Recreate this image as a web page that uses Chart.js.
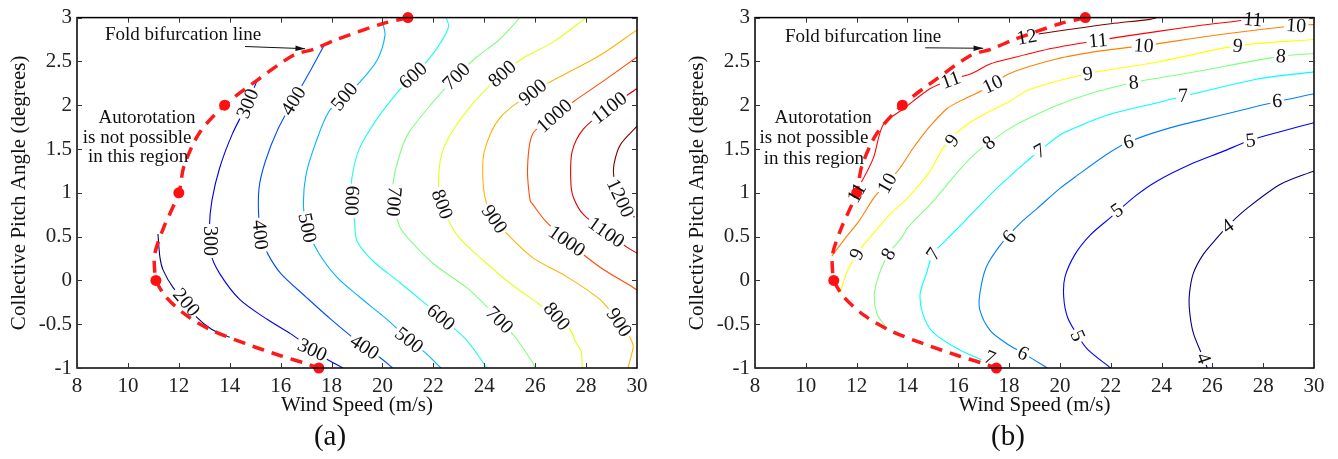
<!DOCTYPE html>
<html>
<head>
<meta charset="utf-8">
<script src="https://cdn.jsdelivr.net/npm/chart.js@4.4.1/dist/chart.umd.min.js"></script>
<style>
  html, body { margin: 0; padding: 0; background: #fff; }
  #wrap { position: relative; width: 1338px; height: 459px; overflow: hidden; }
  .panel { position: absolute; top: 0; width: 669px; height: 459px; }
  #pa { left: 0; }
  #pb { left: 669px; }
</style>
</head>
<body>
<div id="wrap">
  <div class="panel" id="pa"><canvas id="ca"></canvas></div>
  <div class="panel" id="pb"><canvas id="cb"></canvas></div>
</div>
<script>
// ---- axis ticks ----
const windTicks  = [8, 10, 12, 14, 16, 18, 20, 22, 24, 26, 28, 30];
const pitchTicks = [-1, -0.5, 0, 0.5, 1, 1.5, 2, 2.5, 3];

// ---- fold bifurcation line (wind speed, pitch) ----
const foldLine = [[21.0,3.0],[20.0,2.93],[18.2,2.75],[17.3,2.64],[16.5,2.57],[15.1,2.29],[13.8,2.0],
  [12.8,1.68],[12.2,1.3],[12.0,1.0],[11.4,0.6],[11.05,0.3],[11.05,0.12],[11.1,0.0],[11.5,-0.19],
  [12.3,-0.4],[13.3,-0.57],[14.6,-0.72],[16.0,-0.86],[16.9,-0.94],[17.5,-1.0]];
const foldPoints = [[21.0,3.0],[13.8,2.0],[12.0,1.0],[11.1,0.0],[17.5,-1.0]];

// ---- panel (a) contour levels and lines ----
const levelsA = [200, 300, 400, 500, 600, 700, 800, 900, 1000, 1100, 1200];
const contA200 = [[11.18,0.53],[11.26,0.26],[11.38,0.12],[11.77,-0.08],[12.3,-0.25],[12.7,-0.42],[13.3,-0.56],[14.0,-0.65]];
const contA300 = [[15.1,2.3],[14.7,2.02],[14.1,1.67],[13.6,1.28],[13.3,0.91],[13.2,0.6],[13.25,0.31],[13.6,0.08],
  [14.4,-0.22],[15.5,-0.45],[16.5,-0.63],[17.25,-0.79],[17.7,-0.88],[18.45,-1.0]];
const contA400 = [[17.7,2.68],[17.2,2.41],[16.5,2.05],[15.9,1.73],[15.4,1.36],[15.15,1.05],[15.15,0.68],[15.3,0.45],
  [15.5,0.3],[16.0,0.08],[17.0,-0.19],[18.0,-0.45],[19.3,-0.76],[19.9,-0.88],[20.4,-1.0]];
const contA500 = [[20.0,2.95],[20.1,2.8],[19.8,2.52],[19.1,2.26],[18.5,2.1],[17.9,1.93],[17.4,1.59],[17.0,1.21],
  [16.9,0.83],[17.1,0.55],[17.5,0.31],[18.2,0.04],[19.1,-0.19],[20.2,-0.45],[21.05,-0.68],[21.7,-0.83],[22.3,-1.0]];
const contA600 = [[22.5,3.0],[22.6,2.9],[22.3,2.72],[21.75,2.5],[21.2,2.34],[20.6,2.15],[19.8,1.85],[19.1,1.51],
  [18.8,1.17],[18.8,0.9],[18.9,0.68],[19.0,0.45],[19.6,0.23],[20.7,-0.03],[21.5,-0.22],[22.3,-0.42],[23.3,-0.68],[24.1,-1.0]];
const contA700 = [[25.4,3.0],[24.6,2.75],[23.7,2.55],[22.9,2.33],[22.0,2.04],[21.0,1.67],[20.6,1.36],[20.4,1.05],
  [20.5,0.8],[20.7,0.6],[21.1,0.45],[22.0,0.19],[23.3,-0.08],[24.0,-0.27],[24.6,-0.45],[25.3,-0.68],[25.9,-0.94],[26.0,-1.0]];
const contA800 = [[28.0,3.0],[26.7,2.72],[25.6,2.55],[24.7,2.36],[23.3,1.93],[22.4,1.51],[22.2,1.13],[22.35,0.85],
  [22.6,0.68],[23.0,0.49],[23.95,0.23],[25.0,-0.03],[26.1,-0.26],[26.85,-0.41],[27.4,-0.57],[27.6,-0.71],[27.8,-0.8],[27.85,-1.0]];
const contA900 = [[30.0,2.86],[28.55,2.57],[27.2,2.36],[25.9,2.15],[24.6,1.85],[24.0,1.47],[23.95,1.13],[24.1,0.87],
  [24.45,0.68],[24.9,0.53],[25.9,0.26],[27.25,0.04],[28.55,-0.22],[29.3,-0.48],[29.7,-0.64],[29.85,-0.75],[29.7,-0.94],[29.65,-1.0]];
const contA1000 = [[30.0,2.55],[28.8,2.3],[27.5,2.04],[26.75,1.88],[25.9,1.67],[25.7,1.28],[25.8,0.91],[25.9,0.87],
  [26.4,0.68],[27.25,0.45],[28.55,0.15],[29.85,-0.08],[30.0,-0.11]];
const contA1100 = [[30.0,2.19],[28.9,1.97],[27.9,1.73],[27.45,1.47],[27.4,1.13],[27.5,0.95],[27.9,0.75],[28.8,0.55],
  [29.6,0.38],[30.0,0.31]];
const contA1200 = [[30.0,1.76],[29.35,1.55],[29.1,1.33],[29.1,1.17],[29.35,0.94],[29.9,0.72]];
const linesA = [contA200, contA300, contA400, contA500, contA600, contA700, contA800, contA900, contA1000, contA1100, contA1200];

// inline labels of panel (a): [level, wind speed, pitch, rotation in degrees]
const labelsA = [
  [300,14.7,2.02,-68],[400,16.5,2.05,-58],[500,18.5,2.1,-50],[600,21.2,2.34,-42],[700,22.9,2.33,-45],
  [800,24.7,2.36,-42],[900,25.9,2.15,-40],[1000,26.75,1.88,-42],[1100,28.9,1.97,-38],[1200,29.35,0.94,65],
  [300,13.22,0.45,90],[400,15.2,0.52,85],[500,17.05,0.6,78],[600,18.8,0.91,92],[700,20.45,0.9,95],
  [800,22.35,0.87,70],[900,24.4,0.7,55],[1000,27.25,0.45,35],[1100,28.8,0.55,35],
  [200,12.3,-0.25,50],[300,17.25,-0.79,25],[400,19.3,-0.76,33],[500,21.05,-0.68,38],[600,22.3,-0.42,40],
  [700,24.6,-0.45,45],[800,26.85,-0.41,50],[900,29.3,-0.48,57]
];

// ---- panel (b) contour levels and lines ----
const levelsB = [4, 5, 6, 7, 8, 9, 10, 11, 12];
const contB4 = [[25.8,-1.0],[25.65,-0.89],[25.25,-0.6],[25.1,-0.34],[25.1,-0.15],[25.25,0.08],[25.65,0.3],[26.2,0.49],
  [26.6,0.62],[27.4,0.83],[28.7,1.1],[30.0,1.25]];
const contB5 = [[22.0,-1.0],[21.1,-0.79],[20.7,-0.63],[20.3,-0.42],[20.15,-0.19],[20.2,0.04],[20.6,0.3],[21.2,0.52],
  [22.0,0.72],[23.0,0.97],[23.8,1.13],[25.1,1.32],[26.4,1.47],[27.5,1.6],[28.7,1.7],[30.0,1.8]];
const contB6 = [[19.5,-1.0],[18.55,-0.83],[17.9,-0.72],[17.25,-0.57],[16.85,-0.34],[16.85,-0.15],[17.1,0.15],[17.7,0.42],
  [18.5,0.67],[19.1,0.82],[20.0,1.05],[20.6,1.18],[21.85,1.44],[22.7,1.58],[24.2,1.73],[26.4,1.89],[28.4,2.03],[30.0,2.13]];
const contB7 = [[17.3,-0.95],[16.1,-0.8],[15.0,-0.59],[14.6,-0.38],[14.5,-0.15],[14.75,0.08],[15.0,0.3],[15.55,0.47],
  [16.2,0.66],[17.4,1.02],[18.7,1.36],[19.2,1.48],[20.0,1.66],[20.5,1.73],[21.9,1.89],[24.0,2.04],[25.1,2.12],[27.8,2.3],[30.0,2.38]];
const contB8 = [[13.2,-0.55],[12.8,-0.38],[12.7,-0.15],[12.9,0.08],[13.25,0.3],[13.8,0.5],[14.0,0.6],[15.0,0.9],
  [16.1,1.28],[16.75,1.47],[17.2,1.57],[18.0,1.73],[18.55,1.82],[19.9,2.0],[21.4,2.15],[22.9,2.26],[25.1,2.37],[28.7,2.56],[30.0,2.59]];
const contB9 = [[11.35,-0.14],[11.6,0.08],[12.0,0.3],[12.7,0.55],[13.3,0.75],[14.0,0.94],[14.8,1.21],[15.4,1.51],
  [15.8,1.65],[16.35,1.78],[17.25,1.93],[18.0,2.04],[18.8,2.18],[21.1,2.36],[23.8,2.49],[27.0,2.68],[30.0,2.75]];
const contB10 = [[11.03,0.28],[11.6,0.5],[12.1,0.68],[12.7,0.95],[13.2,1.11],[13.7,1.28],[14.2,1.5],[14.8,1.73],
  [15.55,1.96],[16.3,2.08],[17.1,2.19],[18.0,2.36],[19.9,2.53],[21.6,2.62],[23.3,2.68],[26.4,2.81],[29.3,2.91],[30.0,2.92]];
const contB11 = [[11.75,0.92],[12.05,1.05],[12.65,1.39],[13.05,1.78],[13.85,1.96],[14.9,2.19],[15.7,2.29],[16.5,2.36],
  [17.25,2.47],[18.0,2.53],[19.7,2.65],[21.5,2.74],[23.8,2.84],[25.5,2.91],[27.2,2.97],[27.8,3.0]];
const contB12 = [[18.35,2.74],[18.95,2.8],[20.5,2.87],[22.0,2.93],[23.55,2.98],[23.8,3.0]];
const linesB = [contB4, contB5, contB6, contB7, contB8, contB9, contB10, contB11, contB12];

// inline labels of panel (b): [level, wind speed, pitch, rotation in degrees]
const labelsB = [
  [12,18.7,2.78,-10],[11,21.5,2.74,-5],[11,27.6,2.98,5],[10,29.3,2.91,4],[10,23.3,2.68,4],[9,27.0,2.68,5],
  [8,28.7,2.56,4],[9,21.1,2.36,-8],[8,22.9,2.26,-5],[7,24.85,2.11,-3],[6,28.55,2.05,-3],[5,27.5,1.6,-6],
  [6,22.7,1.58,-15],[7,19.2,1.48,-30],[5,22.25,0.8,-35],[4,26.6,0.62,-35],[10,17.35,2.24,-25],
  [11,15.7,2.29,-20],[9,15.75,1.6,-55],[8,17.2,1.57,-40],[10,13.2,1.11,-60],[11,12.0,1.0,-60],
  [9,12.0,0.3,-65],[8,13.25,0.3,-60],[7,15.02,0.3,-55],[6,18.0,0.5,-50],[7,17.25,-0.88,22],
  [6,18.55,-0.83,25],[5,20.7,-0.63,65],[4,25.65,-0.89,70]
];

// ---- text ----
const xTitle = 'Wind Speed (m/s)';
const yTitle = 'Collective Pitch Angle (degrees)';
const foldNote = 'Fold bifurcation line';
const regionNote = ['Autorotation', 'is not possible', 'in this region'];

// jet colour map, t in [0,1]
function jet(t) {
  const c = v => Math.round(255 * Math.max(0, Math.min(1, v)));
  return `rgb(${c(1.5 - Math.abs(4 * t - 3))},${c(1.5 - Math.abs(4 * t - 2))},${c(1.5 - Math.abs(4 * t - 1))})`;
}

const SERIF = '"Liberation Serif", "Times New Roman", serif';
const INK = '#111';

function pts(arr) { return arr.map(p => ({ x: p[0], y: p[1] })); }

function buildDatasets(levels, lines, colorOf) {
  const sets = [
    { // fold points on top
      data: pts(foldPoints), showLine: false, pointRadius: 5.5, pointBackgroundColor: '#ff1010',
      pointBorderWidth: 0, clip: false
    },
    { // fold bifurcation line
      data: pts(foldLine), showLine: true, pointRadius: 0, borderColor: '#ff1a1a', borderWidth: 3.5,
      borderDash: [12, 8], tension: 0.3, clip: false
    }
  ];
  levels.forEach((lv, i) => {
    sets.push({
      data: pts(lines[i]), showLine: true, pointRadius: 0, borderColor: colorOf(lv),
      borderWidth: 1.1, tension: 0.3
    });
  });
  return sets;
}

// per-panel decoration settings
const decorCfg = {
  ca: {
    labels: labelsA, colorOf: v => jet((v - 200) / 1000), tag: '(a)', tagDx: -27,
    foldText: [9.1, 2.8], arrow: [[14.6, 2.67], [16.96, 2.645]],
    region: [[10.75, 1.85], [10.36, 1.62], [10.4, 1.41]]
  },
  cb: {
    labels: labelsB, colorOf: v => jet((v - 4) / 8), tag: '(b)', tagDx: -26.5,
    foldText: [9.18, 2.78], arrow: [[14.7, 2.655], [16.98, 2.65]],
    region: [[10.68, 1.85], [10.32, 1.62], [10.32, 1.39]]
  }
};

const decor = {
  id: 'decor',
  afterDatasetDraw(chart, args) {
    // after the last contour line is drawn: clear gaps behind the labels
    if (args.index !== 2) return;
    const cfg = decorCfg[chart.canvas.id];
    const ctx = chart.ctx, xs = chart.scales.x, ys = chart.scales.y;
    ctx.save();
    ctx.font = `20px ${SERIF}`;
    cfg.labels.forEach(([v, x, y, a]) => {
      const w = ctx.measureText(String(v)).width;
      ctx.save();
      ctx.translate(xs.getPixelForValue(x), ys.getPixelForValue(y));
      ctx.rotate(a * Math.PI / 180);
      ctx.fillStyle = '#fff';
      ctx.fillRect(-w / 2 - 2, -7, w + 4, 14);
      ctx.restore();
    });
    ctx.restore();
  },
  afterDraw(chart) {
    const cfg = decorCfg[chart.canvas.id];
    const ctx = chart.ctx, xs = chart.scales.x, ys = chart.scales.y;
    const { left, right, top, bottom } = chart.chartArea;
    ctx.save();

    // contour labels
    ctx.font = `20px ${SERIF}`;
    ctx.fillStyle = INK;
    ctx.textAlign = 'center';
    ctx.textBaseline = 'middle';
    cfg.labels.forEach(([v, x, y, a]) => {
      ctx.save();
      ctx.translate(xs.getPixelForValue(x), ys.getPixelForValue(y));
      ctx.rotate(a * Math.PI / 180);
      ctx.fillText(String(v), 0, 1);
      ctx.restore();
    });

    // axes box with inward ticks
    ctx.strokeStyle = '#000';
    ctx.lineWidth = 1.5;
    ctx.strokeRect(left, top, right - left, bottom - top);
    ctx.lineWidth = 1;
    ctx.strokeStyle = '#333';
    ctx.beginPath();
    xs.ticks.forEach(t => {
      const px = Math.round(xs.getPixelForValue(t.value)) + 0.5;
      ctx.moveTo(px, bottom); ctx.lineTo(px, bottom - 5);
      ctx.moveTo(px, top); ctx.lineTo(px, top + 5);
    });
    ys.ticks.forEach(t => {
      const py = Math.round(ys.getPixelForValue(t.value)) + 0.5;
      ctx.moveTo(left, py); ctx.lineTo(left + 5, py);
      ctx.moveTo(right, py); ctx.lineTo(right - 5, py);
    });
    ctx.stroke();

    // notes
    ctx.fillStyle = INK;
    ctx.font = `19px ${SERIF}`;
    ctx.textAlign = 'left';
    ctx.fillText(foldNote, xs.getPixelForValue(cfg.foldText[0]), ys.getPixelForValue(cfg.foldText[1]));
    ctx.textAlign = 'center';
    regionNote.forEach((s, i) => {
      ctx.fillText(s, xs.getPixelForValue(cfg.region[i][0]), ys.getPixelForValue(cfg.region[i][1]));
    });

    // arrow towards the fold line
    const x1 = xs.getPixelForValue(cfg.arrow[0][0]), y1 = ys.getPixelForValue(cfg.arrow[0][1]);
    const x2 = xs.getPixelForValue(cfg.arrow[1][0]), y2 = ys.getPixelForValue(cfg.arrow[1][1]);
    const ang = Math.atan2(y2 - y1, x2 - x1);
    ctx.strokeStyle = INK;
    ctx.lineWidth = 1;
    ctx.beginPath();
    ctx.moveTo(x1, y1); ctx.lineTo(x2, y2);
    ctx.stroke();
    ctx.beginPath();
    ctx.moveTo(x2, y2);
    ctx.lineTo(x2 - 10 * Math.cos(ang - 0.28), y2 - 10 * Math.sin(ang - 0.28));
    ctx.lineTo(x2 - 10 * Math.cos(ang + 0.28), y2 - 10 * Math.sin(ang + 0.28));
    ctx.closePath();
    ctx.fillStyle = INK;
    ctx.fill();

    // axis titles
    ctx.font = `21px ${SERIF}`;
    ctx.textAlign = 'center';
    ctx.textBaseline = 'middle';
    ctx.fillText(xTitle, (left + right) / 2, bottom + 37);
    ctx.save();
    ctx.translate(left - 57.5, (top + bottom) / 2);
    ctx.rotate(-Math.PI / 2);
    ctx.fillText(yTitle, 0, 0);
    ctx.restore();

    // panel tag
    ctx.font = `29px ${SERIF}`;
    ctx.fillText(cfg.tag, (left + right) / 2 + cfg.tagDx, bottom + 69);
    ctx.restore();
  }
};

function makeChart(id, levels, lines, padRight, yWidth) {
  const cfg = decorCfg[id];
  return new Chart(document.getElementById(id), {
    type: 'scatter',
    data: { datasets: buildDatasets(levels, lines, cfg.colorOf) },
    options: {
      responsive: true,
      maintainAspectRatio: false,
      animation: false,
      events: [],
      layout: { padding: { left: 0, right: padRight, top: 15, bottom: 0 } },
      plugins: { legend: { display: false }, tooltip: { enabled: false } },
      scales: {
        x: {
          type: 'linear', min: 8, max: 30,
          afterBuildTicks: s => { s.ticks = windTicks.map(v => ({ value: v })); },
          afterFit: s => { s.height = 91; },
          grid: { display: false, drawTicks: false },
          border: { display: false },
          ticks: { padding: 6, color: '#222', font: { family: SERIF, size: 21 }, maxRotation: 0,
                   callback: v => String(v) }
        },
        y: {
          type: 'linear', min: -1, max: 3,
          afterBuildTicks: s => { s.ticks = pitchTicks.map(v => ({ value: v })); },
          afterFit: s => { s.width = yWidth; },
          grid: { display: false, drawTicks: false },
          border: { display: false },
          ticks: { padding: 5, color: '#222', font: { family: SERIF, size: 21 }, callback: v => String(v) }
        }
      }
    },
    plugins: [decor]
  });
}

makeChart('ca', levelsA, linesA, 32, 77);
makeChart('cb', levelsB, linesB, 24, 86);
</script>
</body>
</html>
